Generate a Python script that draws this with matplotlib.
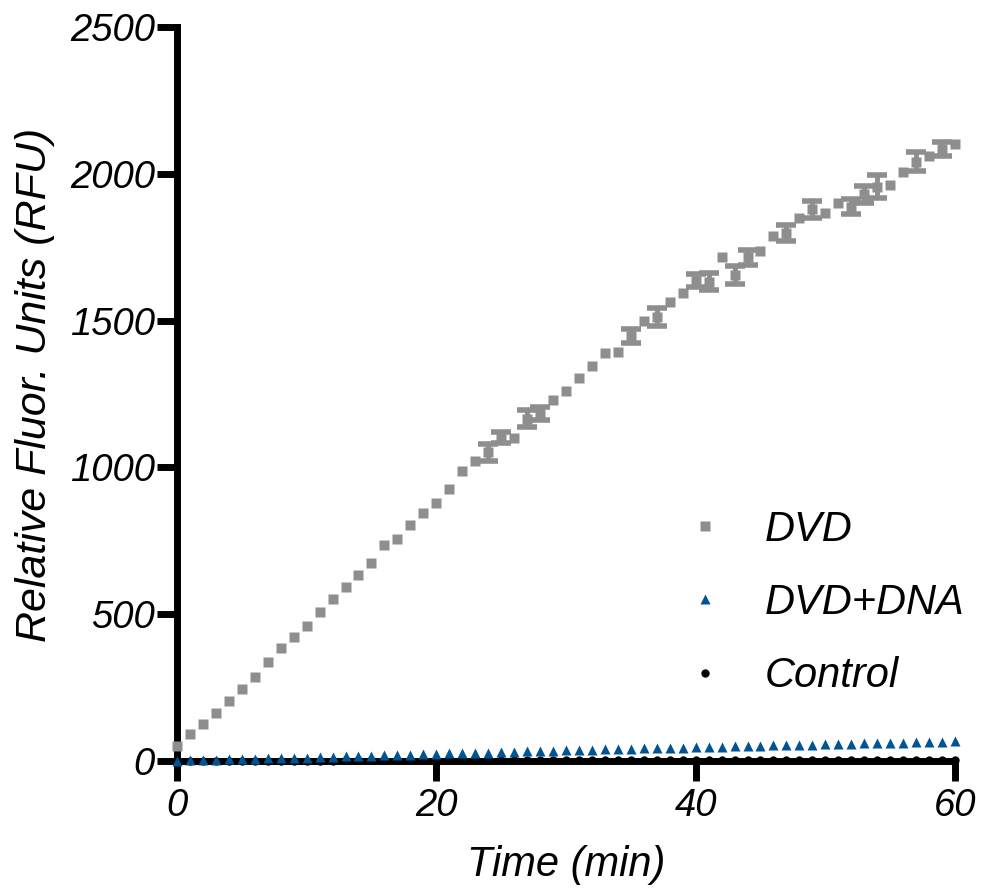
import matplotlib
matplotlib.use("Agg")
import matplotlib.pyplot as plt
import numpy as np

# time points (min)
time_min = list(range(0, 61))

# DVD reporter alone (RFU)
dvd = [51, 91, 125, 162, 203, 244, 287, 336, 384, 421,
       459, 506, 553, 592, 632, 673, 735, 755, 803, 844,
       879, 925, 987, 1021, 1051, 1102, 1099, 1166, 1183, 1229,
       1259, 1303, 1344, 1389, 1392, 1448, 1498, 1513, 1562, 1593,
       1636, 1633, 1715, 1655, 1715, 1737, 1788, 1799, 1848, 1879,
       1865, 1902, 1888, 1930, 1956, 1962, 2007, 2041, 2061, 2085, 2100]

# SD of DVD (only the visible bars)
dvd_sd = [0, 0, 0, 0, 0, 0, 0, 0, 0, 0,
          0, 0, 0, 0, 0, 0, 0, 0, 0, 0,
          0, 0, 0, 0, 28, 20, 0, 28, 22, 0,
          0, 0, 0, 0, 0, 24, 0, 31, 0, 0,
          23, 28, 0, 32, 26, 0, 0, 28, 0, 30,
          0, 0, 26, 28, 40, 0, 0, 32, 0, 24, 0]

# DVD + DNA (RFU)
dvd_dna = [1, 2, 3, 5, 6, 7, 8, 9, 10, 11,
           12, 13, 15, 16, 17, 18, 20, 21, 22, 24,
           25, 26, 27, 28, 29, 31, 32, 33, 34, 35,
           36, 37, 38, 40, 41, 42, 43, 44, 45, 46,
           47, 48, 49, 50, 51, 52, 53, 54, 55, 56,
           57, 58, 59, 60, 61, 62, 63, 64, 65, 66, 67]

# control (RFU)
control = [0, 0, 0, 1, 1, 1, 1, 1, 1, 1,
           1, 1, 1, 2, 2, 2, 2, 2, 2, 2,
           2, 2, 2, 2, 3, 3, 3, 3, 3, 3,
           3, 3, 3, 3, 3, 4, 4, 4, 4, 4,
           4, 4, 4, 4, 4, 4, 4, 5, 5, 5,
           5, 5, 5, 5, 5, 5, 5, 5, 5, 5, 5]

series_labels = ["DVD", "DVD+DNA", "Control"]

gray = "#8e8e8e"
blue = "#005493"

plt.rcParams['font.family'] = ['Liberation Sans', 'DejaVu Sans']
plt.rcParams['font.style'] = 'italic'

fig = plt.figure(figsize=(9.82, 8.90), dpi=100)
ax = fig.add_axes([0.1802, 0.1449, 0.7923, 0.8248])

t = np.array(time_min)
sd = np.array(dvd_sd)
has_sd = sd > 0

ax.errorbar(t[has_sd], np.array(dvd)[has_sd], yerr=sd[has_sd], fmt='none',
            ecolor=gray, elinewidth=3.5, capsize=7, capthick=4, zorder=3)
h1, = ax.plot(t, dvd, 's', ms=7.8, color=gray, mec='none', clip_on=False, zorder=3)
h3, = ax.plot(t, control, 'o', ms=6, color='black', mec='none', clip_on=False, zorder=2.6)
h2, = ax.plot(t, dvd_dna, '^', ms=7.5, color=blue, mec='none', clip_on=False, zorder=3)

ax.set_xlim(0, 60)
ax.set_ylim(0, 2500)
ax.set_xticks([0, 20, 40, 60])
ax.set_yticks([0, 500, 1000, 1500, 2000, 2500])

for s in ['top', 'right']:
    ax.spines[s].set_visible(False)
for s in ['left', 'bottom']:
    ax.spines[s].set_linewidth(5)

ax.tick_params(axis='both', length=14.4, width=5, labelsize=27.5)
ax.tick_params(axis='x', pad=5)
ax.tick_params(axis='y', pad=1.5)

ax.set_xlabel("Time (min)", fontsize=30, labelpad=15)
ax.set_ylabel("Relative Fluor. Units (RFU)", fontsize=31)
ax.yaxis.set_label_coords(-0.157, 0.512)

ax.legend([h1, h2, h3], series_labels, loc='center left',
          bbox_to_anchor=(647 / 982, 1 - 603 / 890), bbox_transform=fig.transFigure,
          frameon=False, prop={'size': 30, 'style': 'italic'},
          handlelength=1, handletextpad=0.92, labelspacing=0.80)

fig.savefig("out.png", dpi=100)
